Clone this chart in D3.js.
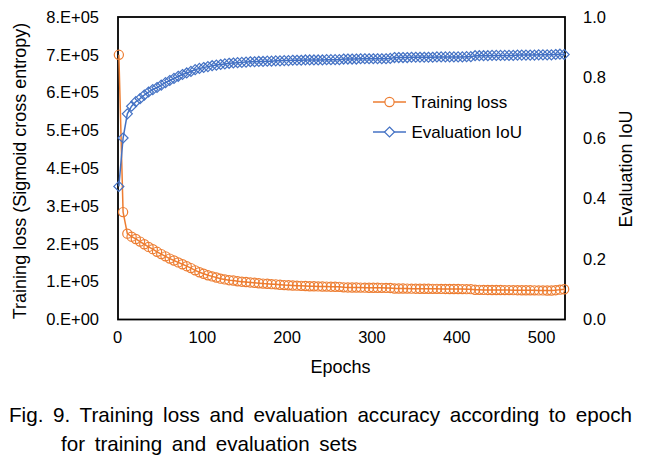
<!DOCTYPE html>
<html>
<head>
<meta charset="utf-8">
<script src="https://cdn.jsdelivr.net/npm/d3@7"></script>
<style>
  html, body { margin: 0; padding: 0; background: #fff; }
  svg { display: block; }
  text { font-family: Arial, "Liberation Sans", sans-serif; fill: #000; }
</style>
</head>
<body>
<svg id="chart" width="653" height="462"></svg>
<script>
// ---------------- data ----------------
const epochs = [
  1,6,11,16,21,26,31,36,41,46,
  51,56,61,66,71,76,81,86,91,96,
  101,106,111,116,121,126,131,136,141,146,
  151,156,161,166,171,176,181,186,191,196,
  201,206,211,216,221,226,231,236,241,246,
  251,256,261,266,271,276,281,286,291,296,
  301,306,311,316,321,326,331,336,341,346,
  351,356,361,366,371,376,381,386,391,396,
  401,406,411,416,421,426,431,436,441,446,
  451,456,461,466,471,476,481,486,491,496,
  501,506,511,516,521,526
];
const trainingLoss = [
  700000,284000,227000,219000,213000,206000,199000,192000,186000,179000,
  173000,167000,161000,156000,151000,146000,141000,136000,130000,125000,
  121000,117000,114000,111000,108000,106000,104000,103000,101000,100000,
  99000,98000,97000,96000,95000,94500,93500,93000,92000,91000,
  90500,90000,89500,89000,88500,88000,87800,87500,87300,87000,
  86800,86600,86400,85000,84800,84600,84500,84300,84200,84000,
  83900,83800,83700,83600,83500,82000,81900,81800,81700,81600,
  81500,81400,81300,81200,81100,81000,80900,80800,80700,80600,
  80500,80400,80300,80200,78500,78400,78300,78200,78100,78000,
  77900,77800,77700,77600,77500,77400,77300,77200,77100,77000,
  76900,76800,76700,77500,79000,80000
];
const evaluationIoU = [
  0.44,0.60,0.68,0.705,0.72,0.73,0.742,0.752,0.76,0.767,
  0.775,0.783,0.79,0.797,0.804,0.81,0.815,0.82,0.826,0.83,
  0.833,0.836,0.839,0.841,0.843,0.845,0.847,0.848,0.849,0.85,
  0.851,0.852,0.852,0.853,0.853,0.854,0.854,0.855,0.855,0.856,
  0.856,0.857,0.857,0.857,0.858,0.858,0.858,0.858,0.858,0.859,
  0.859,0.859,0.859,0.861,0.861,0.861,0.861,0.862,0.862,0.862,
  0.862,0.862,0.862,0.862,0.863,0.866,0.866,0.866,0.866,0.867,
  0.867,0.867,0.867,0.867,0.867,0.868,0.868,0.868,0.868,0.868,
  0.868,0.868,0.869,0.869,0.872,0.872,0.872,0.872,0.873,0.873,
  0.873,0.873,0.873,0.873,0.874,0.874,0.874,0.874,0.874,0.875,
  0.875,0.875,0.875,0.876,0.877,0.876
];
const xTickValues = [0,100,200,300,400,500];
const leftTickValues = [0,100000,200000,300000,400000,500000,600000,700000,800000];
const leftTickLabels = ["0.E+00","1.E+05","2.E+05","3.E+05","4.E+05","5.E+05","6.E+05","7.E+05","8.E+05"];
const rightTickValues = [0,0.2,0.4,0.6,0.8,1.0];
const rightTickLabels = ["0.0","0.2","0.4","0.6","0.8","1.0"];
const seriesNames = ["Training loss","Evaluation IoU"];
const captionLines = ["Fig. 9. Training loss and evaluation accuracy according to epoch","for training and evaluation sets"];

// ---------------- layout ----------------
(function () {
const ORANGE = "#ED7D31", BLUE = "#4472C4";
const pL = 118, pR = 565, pT = 17, pB = 319.5;
const svg = d3.select("#chart");

const x = d3.scaleLinear().domain([0, 527]).range([pL, pR]);
const yL = d3.scaleLinear().domain([0, 800000]).range([pB, pT]);
const yR = d3.scaleLinear().domain([0, 1]).range([pB, pT]);
const FONT = "Arial, 'Liberation Sans', sans-serif";

// axes (labels only)
const gx = svg.append("g").attr("transform", `translate(0,${pB + 9})`)
  .call(d3.axisBottom(x).tickValues(xTickValues).tickSize(0).tickFormat(d3.format("d")));
gx.select(".domain").remove();
gx.selectAll("text").attr("font-size", "16.5px").attr("font-family", FONT).attr("fill", "#000").attr("dx", "-1");

const gl = svg.append("g").attr("transform", `translate(${pL - 16},0)`)
  .call(d3.axisLeft(yL).tickValues(leftTickValues).tickSize(0).tickFormat((d, i) => leftTickLabels[i]));
gl.select(".domain").remove();
gl.selectAll("text").attr("font-size", "16.5px").attr("font-family", FONT).attr("fill", "#000");

const gr = svg.append("g").attr("transform", `translate(${pR + 15},0)`)
  .call(d3.axisRight(yR).tickValues(rightTickValues).tickSize(0).tickFormat((d, i) => rightTickLabels[i]));
gr.select(".domain").remove();
gr.selectAll("text").attr("font-size", "16.5px").attr("font-family", FONT).attr("fill", "#000");

// frame
svg.append("rect").attr("x", pL).attr("y", pT).attr("width", pR - pL).attr("height", pB - pT)
  .attr("fill", "none").attr("stroke", "#000").attr("stroke-width", 1.8);

// axis titles
svg.append("text").attr("x", (pL + pR) / 2 - 1).attr("y", 373).attr("text-anchor", "middle")
  .attr("font-size", "18px").text("Epochs");
svg.append("text").attr("transform", "translate(26,171) rotate(-90)").attr("text-anchor", "middle")
  .attr("font-size", "18px").text("Training loss (Sigmoid cross entropy)");
svg.append("text").attr("transform", "translate(632,169) rotate(-90)").attr("text-anchor", "middle")
  .attr("font-size", "18px").text("Evaluation IoU");

// series
const lossData = epochs.map((e, i) => [e, trainingLoss[i]]);
const iouData = epochs.map((e, i) => [e, evaluationIoU[i]]);

const diamond = (cx, cy, r) => `M${cx},${cy - r}L${cx + r},${cy}L${cx},${cy + r}L${cx - r},${cy}Z`;

svg.append("path").datum(lossData)
  .attr("d", d3.line().x(d => x(d[0])).y(d => yL(d[1])))
  .attr("fill", "none").attr("stroke", ORANGE).attr("stroke-width", 1.5);
svg.append("g").selectAll("circle").data(lossData).join("circle")
  .attr("cx", d => x(d[0])).attr("cy", d => yL(d[1])).attr("r", 4.6)
  .attr("fill", "none").attr("stroke", ORANGE).attr("stroke-width", 1.2);

svg.append("path").datum(iouData)
  .attr("d", d3.line().x(d => x(d[0])).y(d => yR(d[1])))
  .attr("fill", "none").attr("stroke", BLUE).attr("stroke-width", 1.5);
svg.append("g").selectAll("path").data(iouData).join("path")
  .attr("d", d => diamond(x(d[0]), yR(d[1]), 5))
  .attr("fill", "none").attr("stroke", BLUE).attr("stroke-width", 1.2);

// legend
const legend = svg.append("g");
const legY = [102, 132];
const legColors = [ORANGE, BLUE];
seriesNames.forEach((name, i) => {
  legend.append("line").attr("x1", 373).attr("x2", 406).attr("y1", legY[i]).attr("y2", legY[i])
    .attr("stroke", legColors[i]).attr("stroke-width", 1.5);
  if (i === 0) {
    legend.append("circle").attr("cx", 389.5).attr("cy", legY[i]).attr("r", 4.6)
      .attr("fill", "#fff").attr("stroke", legColors[i]).attr("stroke-width", 1.2);
  } else {
    legend.append("path").attr("d", diamond(389.5, legY[i], 5))
      .attr("fill", "#fff").attr("stroke", legColors[i]).attr("stroke-width", 1.2);
  }
  legend.append("text").attr("x", 411.5).attr("y", legY[i]).attr("dy", "0.35em")
    .attr("font-size", "17px").text(name);
});

// caption (narrow, tall glyphs with wide word spacing)
svg.append("text").attr("x", 9).attr("y", 421.5).attr("font-size", "21px")
  .attr("word-spacing", "4px")
  .attr("textLength", 623).attr("lengthAdjust", "spacingAndGlyphs").text(captionLines[0]);
svg.append("text").attr("x", 61).attr("y", 451).attr("font-size", "21px")
  .attr("word-spacing", "4px")
  .attr("textLength", 296).attr("lengthAdjust", "spacingAndGlyphs").text(captionLines[1]);
})();
</script>
</body>
</html>
